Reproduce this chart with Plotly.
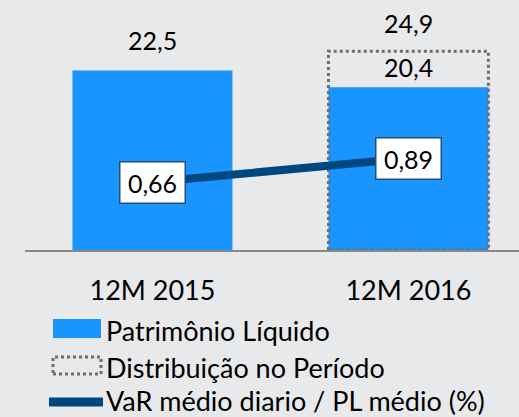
import plotly.graph_objects as go

categories = ["12M 2015", "12M 2016"]
patrimonio = [22.5, 20.4]
distribuicao_total = [None, 24.9]
var_pl = [0.66, 0.89]

series_names = ["Patrimônio Líquido", "Distribuição no Período", "VaR médio diario / PL médio (%)"]

BLUE = "#1A94FF"
NAVY = "#00467F"
GRAY = "#6E6E6E"
BG = "#E8E9EB"
FONT = "Lato"
W, H = 519, 417
ML, MR, MT, MB = 25, 0, 10, 167

def fmt(v, d):
    return f"{v:.{d}f}".replace(".", ",")

# helpers converting pixel positions (legend layout only) to paper coords
def px_x(p):
    return (p - ML) / (W - ML - MR)

def px_y(p):
    return (H - MB - p) / (H - MT - MB)

xs = list(range(len(categories)))
w = 0.625

fig = go.Figure()
fig.add_trace(go.Bar(x=xs, y=patrimonio, width=w, marker=dict(color=BLUE, line=dict(width=0)),
                     name=series_names[0], yaxis="y", hoverinfo="skip"))

for i, t in enumerate(distribuicao_total):
    if t is None:
        continue
    fig.add_trace(go.Scatter(
        x=[i - w / 2, i - w / 2, i + w / 2, i + w / 2, i - w / 2],
        y=[0, t, t, 0, 0], mode="lines",
        line=dict(color=GRAY, width=3, dash="dot"),
        name=series_names[1], yaxis="y", hoverinfo="skip"))

fig.add_trace(go.Scatter(x=xs, y=var_pl, mode="lines", line=dict(color=NAVY, width=8),
                         name=series_names[2], yaxis="y2", hoverinfo="skip"))

ann = []
for i, v in enumerate(patrimonio):
    inside_box = distribuicao_total[i] is not None
    ann.append(dict(x=i, y=v, xref="x", yref="y", text=fmt(v, 1), showarrow=False,
                    yanchor="bottom", yshift=3 if inside_box else 13,
                    font=dict(size=25, color="#000", family=FONT)))
for i, t in enumerate(distribuicao_total):
    if t is None:
        continue
    ann.append(dict(x=i, y=t, xref="x", yref="y", text=fmt(t, 1), showarrow=False,
                    yanchor="bottom", yshift=11, font=dict(size=25, color="#000", family=FONT)))
for i, v in enumerate(var_pl):
    ann.append(dict(x=i, y=v, xref="x", yref="y2", text=fmt(v, 2), showarrow=False,
                    width=58, height=34,
                    bgcolor="white", bordercolor="#1F4E79", borderwidth=1.5, borderpad=3,
                    font=dict(size=25, color="#000", family=FONT)))

# custom legend (symbols sized like the original)
shapes = [
    dict(type="rect", xref="paper", yref="paper", x0=px_x(53), x1=px_x(101), y0=px_y(338), y1=px_y(319),
         fillcolor=BLUE, line=dict(width=0)),
    dict(type="rect", xref="paper", yref="paper", x0=px_x(53), x1=px_x(101), y0=px_y(374), y1=px_y(357),
         fillcolor="rgba(0,0,0,0)", line=dict(color=GRAY, width=3, dash="dot")),
    dict(type="line", xref="paper", yref="paper", x0=px_x(49), x1=px_x(103), y0=px_y(402), y1=px_y(402),
         line=dict(color=NAVY, width=9)),
]
for name, yc in zip(series_names, [330, 367, 400]):
    ann.append(dict(x=px_x(104), y=px_y(yc), xref="paper", yref="paper", text=name, showarrow=False,
                    xanchor="left", yanchor="middle", font=dict(size=27, color="#000", family=FONT)))

fig.update_layout(
    width=W, height=H,
    margin=dict(l=ML, r=MR, t=MT, b=MB, autoexpand=False),
    paper_bgcolor=BG, plot_bgcolor=BG,
    font=dict(family=FONT, size=25, color="#000"),
    showlegend=False,
    hovermode=False,
    xaxis=dict(range=[-0.498, 1.432], tickvals=xs, ticktext=categories, showgrid=False,
               zeroline=False, showline=True, linecolor="#888888", linewidth=2,
               ticks="outside", ticklen=16, tickcolor="rgba(0,0,0,0)",
               tickfont=dict(size=27, family=FONT), fixedrange=True),
    yaxis=dict(range=[0, 30.08], visible=False, showgrid=False, fixedrange=True),
    yaxis2=dict(range=[0, 2.33], overlaying="y", visible=False, showgrid=False, fixedrange=True),
    annotations=ann,
    shapes=shapes,
)

fig.write_html("out.html", config={"displayModeBar": False},
               post_script="document.body.style.margin='0';document.body.style.overflow='hidden';")
